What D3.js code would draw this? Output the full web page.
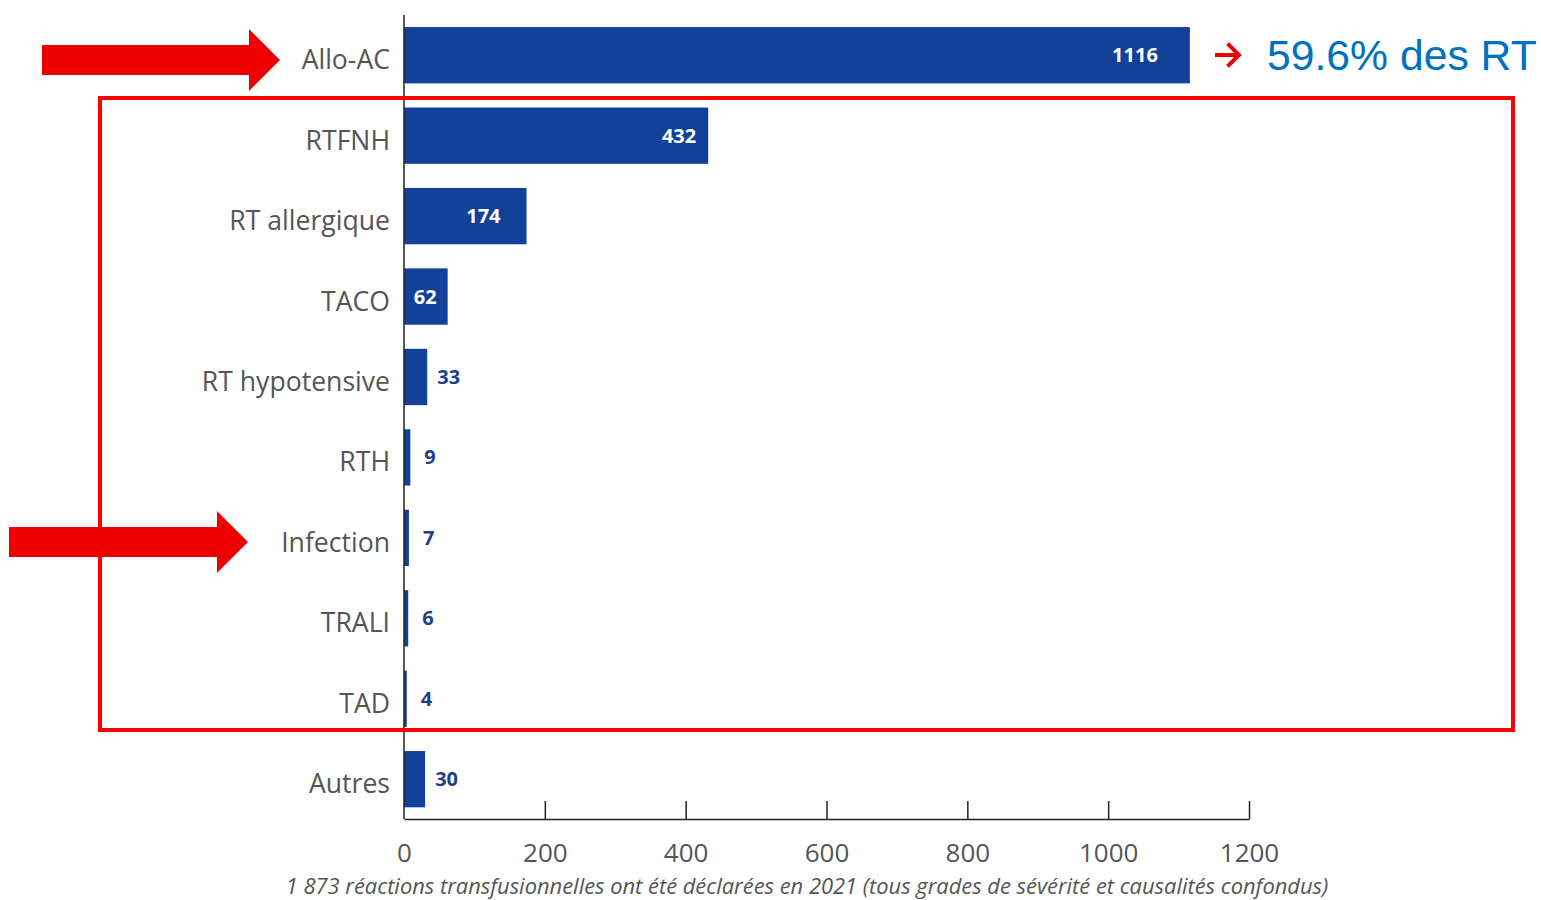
<!DOCTYPE html>
<html>
<head>
<meta charset="utf-8">
<script src="https://cdn.jsdelivr.net/npm/d3@7"></script>
<style>
  html, body { margin: 0; padding: 0; background: #fff; }
  svg { display: block; }
</style>
</head>
<body>
<svg id="chart" width="1541" height="900"></svg>
<script>
// Types de réactions transfusionnelles déclarées en 2021
const categories = ["Allo-AC", "RTFNH", "RT allergique", "TACO", "RT hypotensive", "RTH", "Infection", "TRALI", "TAD", "Autres"];
const counts = [1116, 432, 174, 62, 33, 9, 7, 6, 4, 30];
const tickValues = [0, 200, 400, 600, 800, 1000, 1200];
const caption = "1 873 réactions transfusionnelles ont été déclarées en 2021 (tous grades de sévérité et causalités confondus)";
const highlightText = "59.6% des RT";

const data = categories.map((c, i) => ({ cat: c, value: counts[i] }));

const svg = d3.select("#chart");
const barColor = "#12419a";
const labelColor = "#555555";
const red = "#ee0000";

const x = d3.scaleLinear().domain([0, 1200]).range([404, 1249]);
const y = d3.scaleBand().domain(categories).range([15, 819.4]).paddingInner(0.3).paddingOuter(0.15);

// Bars
svg.append("g").selectAll("rect").data(data).join("rect")
  .attr("x", x(0))
  .attr("y", d => y(d.cat))
  .attr("width", d => x(d.value) - x(0))
  .attr("height", y.bandwidth())
  .attr("fill", barColor);

// Category labels
svg.append("g").selectAll("text").data(data).join("text")
  .attr("x", 390)
  .attr("y", d => y(d.cat) + y.bandwidth() / 2 + 14)
  .attr("text-anchor", "end")
  .attr("font-family", "'Open Sans', sans-serif")
  .attr("font-size", 26.6)
  .attr("fill", labelColor)
  .text(d => d.cat);

// Value labels: inside the long bars, just after the short ones
const insideInset = { "Allo-AC": 32, "RTFNH": 12, "RT allergique": 26, "TACO": 11 };
svg.append("g").selectAll("text").data(data).join("text")
  .attr("x", d => d.value >= 50 ? x(d.value) - (insideInset[d.cat] ?? 12) : x(d.value) + (d.value < 20 ? 14 : 10))
  .attr("y", d => y(d.cat) + y.bandwidth() / 2 + 7)
  .attr("text-anchor", d => d.value >= 50 ? "end" : "start")
  .attr("font-family", "'Open Sans', sans-serif")
  .attr("font-weight", 700)
  .attr("font-size", 20)
  .attr("fill", d => d.value >= 50 ? "#ffffff" : "#1d3f8c")
  .text(d => d.value);

// Vertical axis line
svg.append("line")
  .attr("x1", x(0)).attr("x2", x(0))
  .attr("y1", 15).attr("y2", 819)
  .attr("stroke", "#222").attr("stroke-width", 1.5);

// Horizontal axis with upward ticks
const xAxis = d3.axisBottom(x)
  .tickValues(tickValues)
  .tickSizeInner(-18)
  .tickSizeOuter(0)
  .tickPadding(25)
  .tickFormat(d3.format("d"));

const gx = svg.append("g").attr("transform", "translate(0,819)").call(xAxis);
gx.select(".domain").attr("stroke", "#222").attr("stroke-width", 1.5);
gx.selectAll(".tick line").attr("stroke", "#222").attr("stroke-width", 1.5)
  .attr("display", d => d === 0 ? "none" : null);
gx.selectAll(".tick text")
  .attr("font-family", "'Open Sans', sans-serif")
  .attr("font-size", 26)
  .attr("fill", labelColor);

// Caption
svg.append("text")
  .attr("x", 807).attr("y", 894)
  .attr("text-anchor", "middle")
  .attr("font-family", "'Open Sans', sans-serif")
  .attr("font-style", "italic")
  .attr("font-size", 21.9)
  .attr("fill", labelColor)
  .text(caption);

// Highlight frame around the other reaction types
svg.append("rect")
  .attr("x", 100).attr("y", 98)
  .attr("width", 1413).attr("height", 632)
  .attr("fill", "none")
  .attr("stroke", "#ff0000")
  .attr("stroke-width", 4);

// Big block arrows
function blockArrow(x0, xTip, cy, shaftHalf, headLen, headHalf) {
  const xh = xTip - headLen;
  return `M${x0},${cy - shaftHalf} L${xh},${cy - shaftHalf} L${xh},${cy - headHalf} L${xTip},${cy} L${xh},${cy + headHalf} L${xh},${cy + shaftHalf} L${x0},${cy + shaftHalf} Z`;
}
svg.append("path").attr("d", blockArrow(42, 280, 60, 15, 31, 31)).attr("fill", red);
svg.append("path").attr("d", blockArrow(9, 248, 542, 15, 31, 31)).attr("fill", red);

// Small arrow pointing to the share
const ay = 55;
svg.append("line")
  .attr("x1", 1215).attr("x2", 1238).attr("y1", ay).attr("y2", ay)
  .attr("stroke", red).attr("stroke-width", 4);
svg.append("path")
  .attr("d", `M1229,${ay - 10} L1239,${ay} L1229,${ay + 10}`)
  .attr("fill", "none").attr("stroke", red).attr("stroke-width", 4)
  .attr("stroke-linecap", "square").attr("stroke-linejoin", "miter");

svg.append("text")
  .attr("x", 1267).attr("y", 70)
  .attr("font-family", "'Liberation Sans', Arial, sans-serif")
  .attr("font-size", 42.7)
  .attr("fill", "#0070c0")
  .text(highlightText);
</script>
</body>
</html>
